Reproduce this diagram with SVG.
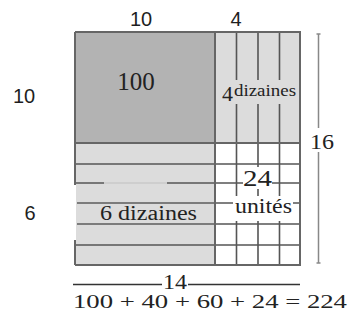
<svg xmlns="http://www.w3.org/2000/svg" width="352" height="321" viewBox="0 0 352 321">
<style>
.g{stroke:#555;stroke-width:1.6;fill:none}
.b{stroke:#666;stroke-width:2;fill:none}
.m{stroke:#7c7c7c;stroke-width:1.8;fill:none}
.sans{font-family:"Liberation Sans",Arial,sans-serif;fill:#1e1e1e;font-size:20px;text-anchor:middle}
.serif{font-family:"Liberation Serif","Times New Roman",serif;fill:#222}
.dim{stroke:#888;stroke-width:1.5;fill:none}
</style>
<rect width="352" height="321" fill="#fff"/>
<g id="square-100">
<rect x="75" y="32" width="140" height="111" fill="#b3b3b3"/>
<text class="serif" x="136" y="90" font-size="25" text-anchor="middle" fill="#333">100</text>
</g>
<g id="col-40">
<rect x="215" y="32" width="85" height="111" fill="#dcdcdc"/>
</g>
<g id="rows-60">
<rect x="76" y="143" width="139" height="122" fill="#dcdcdc"/>
</g>
<g id="grid-24">
<rect x="215" y="143" width="85" height="122" fill="#fff"/>
</g>
<g id="connectors">
<path class="g" d="M236.5 32V265M258 32V265M279.5 32V265"/>
<path class="g" d="M75 164H300M75 245H300M215 203H300M215 224H300M75 183H104M167 183H300"/>
<path d="M104 183H167" stroke="#cacaca" stroke-width="1.6"/>
<path class="m" d="M77 203H215M77 224H215"/>
<path class="b" d="M75 143H300M215 32V265"/>
<path class="b" d="M75 32H300V265H75M75 32V185M75 240V265"/>
</g>
<g id="label-40">
<rect x="220" y="80" width="78" height="24" fill="#dcdcdc"/>
<text class="serif" x="222" y="101" font-size="22" fill="#333">4</text>
<text class="serif" x="234" y="96" font-size="16" textLength="62" lengthAdjust="spacingAndGlyphs">dizaines</text>
</g>
<g id="label-24">
<rect x="243" y="167" width="29" height="22" fill="#fff"/>
<path d="M258 189V196" stroke="#777" stroke-width="1.4" stroke-dasharray="2 2"/>
<rect x="233" y="196" width="60" height="25" fill="#fff"/>
<text class="serif" x="243" y="186" font-size="24" textLength="29" lengthAdjust="spacingAndGlyphs" fill="#444">24</text>
<text class="serif" x="235" y="213" font-size="20" textLength="57" lengthAdjust="spacingAndGlyphs">unités</text>
</g>
<g id="label-60">
<text class="serif" x="100" y="220" font-size="20" textLength="97" lengthAdjust="spacingAndGlyphs">6 dizaines</text>
</g>
<g id="side-labels">
<text class="sans" x="141" y="26">10</text>
<text class="sans" x="236" y="26">4</text>
<text class="sans" x="24" y="103">10</text>
<text class="sans" x="30" y="220">6</text>
</g>
<g id="dim-16">
<path class="dim" d="M318.5 34V128M318.5 152V263M316.5 34H320.5M316.5 263H320.5"/>
<text class="serif" x="310" y="149" font-size="22" textLength="24" lengthAdjust="spacingAndGlyphs" fill="#333">16</text>
</g>
<g id="dim-14">
<path d="M73 284.5H162M188 284.5H300" stroke="#333" stroke-width="1.3"/>
<text class="serif" x="163" y="289" font-size="20" textLength="24" lengthAdjust="spacingAndGlyphs" fill="#333">14</text>
</g>
<g id="equation">
<text class="serif" x="73" y="308" font-size="19" textLength="274" lengthAdjust="spacingAndGlyphs" fill="#333">100 + 40 + 60 + 24 = 224</text>
</g>
</svg>
